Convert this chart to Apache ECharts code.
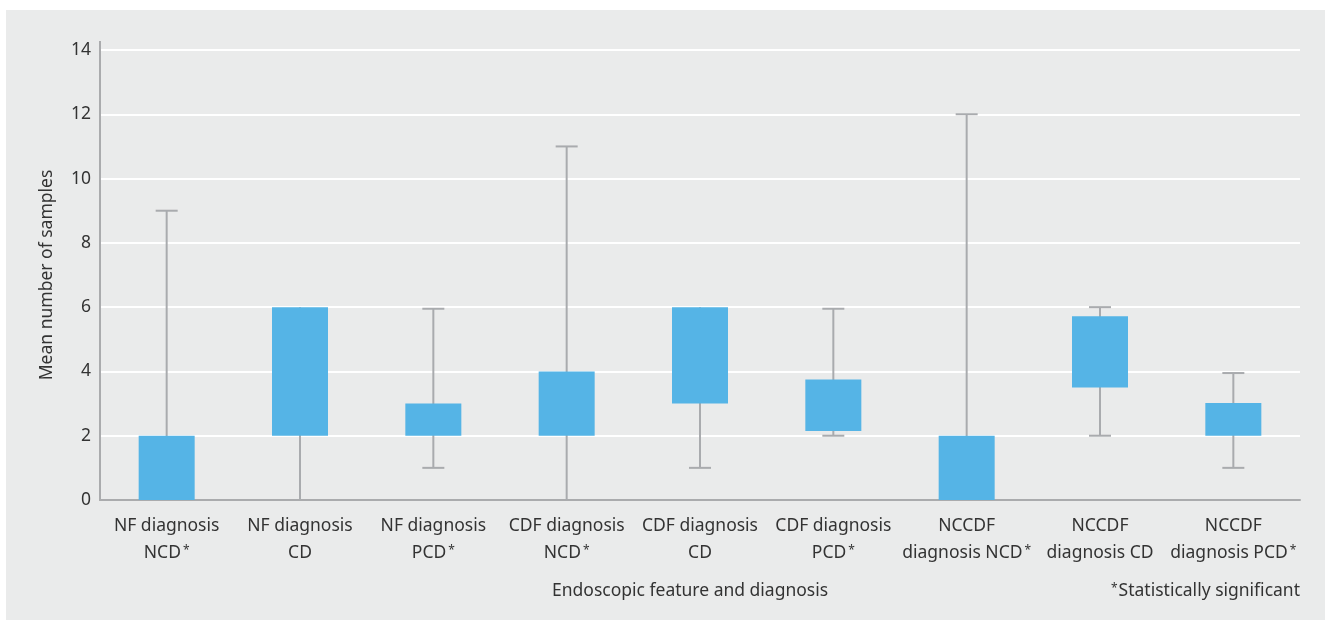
<!DOCTYPE html>
<html>
<head>
<meta charset="utf-8">
<script src="https://cdn.jsdelivr.net/npm/echarts@6/dist/echarts.min.js"></script>
<style>
html,body{margin:0;padding:0;background:#fff;}
#chart{width:1325px;height:620px;}
</style>
</head>
<body>
<div id="chart"></div>
<script>
var categories = [
  'NF diagnosis\nNCD*', 'NF diagnosis\nCD', 'NF diagnosis\nPCD*',
  'CDF diagnosis\nNCD*', 'CDF diagnosis\nCD', 'CDF diagnosis\nPCD*',
  'NCCDF\ndiagnosis NCD*', 'NCCDF\ndiagnosis CD', 'NCCDF\ndiagnosis PCD*'
];
var whiskerMin = [0, 0, 1, 0, 1, 2, 0, 2, 1];
var boxLow     = [0, 2, 2, 2, 3, 2.15, 0, 3.5, 2];
var boxHigh    = [2, 6, 3, 4, 6, 3.75, 2, 5.72, 3.02];
var whiskerMax = [9, 6, 5.95, 11, 6, 5.95, 12, 6, 3.95];
var yTicks = [0, 2, 4, 6, 8, 10, 12, 14];
var xTitle = 'Endoscopic feature and diagnosis';
var yTitle = 'Mean number of samples';
var footnote = 'Statistically significant';

var FONT = '"Noto Sans", sans-serif';
var FS = 17.5;
var TEXT = '#333';
var data = categories.map(function (c, i) {
  return [i, whiskerMin[i], boxLow[i], boxHigh[i], whiskerMax[i]];
});

var chart = echarts.init(document.getElementById('chart'));
chart.setOption({
  backgroundColor: '#fff',
  animation: false,
  graphic: [
    { type: 'rect', z: -10, silent: true, shape: { x: 6, y: 10, width: 1319, height: 610 }, style: { fill: '#eaebeb' } },
    { type: 'line', z: 10, silent: true, shape: { x1: 100, y1: 41, x2: 100, y2: 51 }, style: { stroke: '#aaabad', lineWidth: 2 } },
    { type: 'text', left: 552, top: 582, style: { text: xTitle, fill: TEXT, font: FS + 'px ' + FONT } },
    { type: 'text', right: 25, top: 582, style: {
      text: '{s|*}{a|' + footnote + '}', fill: TEXT,
      rich: { a: { fontSize: FS, fontFamily: FONT, color: TEXT }, s: { fontSize: 12, fontFamily: FONT, color: TEXT, padding: [0, 1, 4, 0] } }
    } }
  ],
  grid: { left: 100, right: 25, top: 50, bottom: 120 },
  xAxis: {
    type: 'category',
    data: categories,
    axisTick: { show: false },
    axisLine: { lineStyle: { color: '#aaabad', width: 2 } },
    axisLabel: {
      interval: 0,
      margin: 13,
      lineHeight: 27,
      color: TEXT,
      fontFamily: FONT,
      fontSize: FS,
      formatter: function (v) {
        return v.split('\n').map(function (line) {
          return line.split('*').map(function (p) { return p ? '{a|' + p + '}' : ''; }).join('{s|*}');
        }).join('\n');
      },
      rich: {
        a: { fontSize: FS, fontFamily: FONT, color: TEXT, lineHeight: 27 },
        s: { fontSize: 12, fontFamily: FONT, color: TEXT, padding: [0, 0, 6, 2], lineHeight: 27 }
      }
    },
    splitLine: { show: false }
  },
  yAxis: {
    type: 'value',
    min: yTicks[0],
    max: yTicks[yTicks.length - 1],
    interval: 2,
    name: yTitle,
    nameLocation: 'middle',
    nameGap: 44,
    nameTextStyle: { color: TEXT, fontFamily: FONT, fontSize: FS },
    axisLine: { show: true, lineStyle: { color: '#aaabad', width: 2 } },
    axisTick: { show: false },
    axisLabel: { color: TEXT, fontFamily: FONT, fontSize: FS, margin: 9 },
    splitLine: { lineStyle: { color: '#ffffff', width: 2 } }
  },
  series: [{
    type: 'custom',
    data: data,
    encode: { x: 0, y: [1, 2, 3, 4] },
    renderItem: function (params, api) {
      var x = api.value(0);
      var pMin = api.coord([x, api.value(1)]);
      var pLow = api.coord([x, api.value(2)]);
      var pHigh = api.coord([x, api.value(3)]);
      var pMax = api.coord([x, api.value(4)]);
      var boxW = 56, capW = 22;
      var cx = pMin[0];
      var lineStyle = { stroke: '#a9abae', lineWidth: 2 };
      var children = [
        { type: 'line', shape: { x1: cx, y1: pMin[1], x2: cx, y2: pMax[1] }, style: lineStyle }
      ];
      if (api.value(4) > api.value(3)) {
        children.push({ type: 'line', shape: { x1: cx - capW / 2, y1: pMax[1], x2: cx + capW / 2, y2: pMax[1] }, style: lineStyle });
      }
      if (api.value(1) < api.value(2) && api.value(1) > 0) {
        children.push({ type: 'line', shape: { x1: cx - capW / 2, y1: pMin[1], x2: cx + capW / 2, y2: pMin[1] }, style: lineStyle });
      }
      children.push({ type: 'rect', shape: { x: cx - boxW / 2, y: pHigh[1], width: boxW, height: pLow[1] - pHigh[1] }, style: { fill: '#55b4e6' } });
      return { type: 'group', children: children };
    }
  }]
});
</script>
</body>
</html>
